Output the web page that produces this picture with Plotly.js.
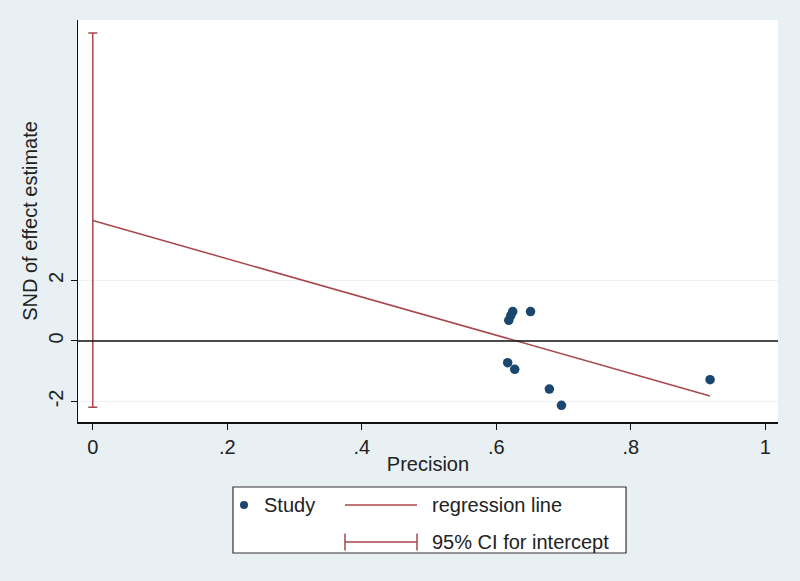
<!DOCTYPE html>
<html>
<head>
<meta charset="utf-8">
<script src="https://cdn.plot.ly/plotly-3.0.1.min.js"></script>
<style>html,body{margin:0;padding:0;background:#e8f0f3;}#chart{width:800px;height:581px;}</style>
</head>
<body>
<div id="chart"></div>
<script>
// Study points (Galbraith / Egger plot)
var precision = [0.6245, 0.6216, 0.6186, 0.651, 0.617, 0.6275, 0.679, 0.697, 0.918];
var snd = [0.97, 0.84, 0.68, 0.97, -0.72, -0.94, -1.59, -2.13, -1.28];
// Regression line end points
var regX = [0, 0.918];
var regY = [3.98, -1.82];
// 95% CI for intercept
var ciX = [0];
var ciLow = [-2.19];
var ciHigh = [10.18];
// Tick labels
var xTickVals = [0, 0.2, 0.4, 0.6, 0.8, 1];
var xTickText = ['0', '.2', '.4', '.6', '.8', '1'];
var yTickVals = [-2, 0, 2];
var yTickText = ['-2', '0', '2'];

var navy = '#1a476f';
var maroon = '#a8474c';
var font = 'Liberation Sans, Arial, sans-serif';
var fs = 20;

var ciMid = ciLow.map(function(v, i){ return (v + ciHigh[i]) / 2; });
var ciHalf = ciLow.map(function(v, i){ return (ciHigh[i] - v) / 2; });

var traces = [
  {x: ciX, y: ciMid, type: 'scatter', mode: 'markers', name: '95% CI for intercept',
   marker: {size: 1, opacity: 0, color: maroon},
   error_y: {type: 'data', symmetric: true, array: ciHalf, color: maroon, thickness: 1.5, width: 4.5},
   hoverinfo: 'skip'},
  {x: regX, y: regY, type: 'scatter', mode: 'lines', name: 'regression line',
   line: {color: maroon, width: 1.5}},
  {x: precision, y: snd, type: 'scatter', mode: 'markers', name: 'Study',
   marker: {color: navy, size: 9.5}}
];

// custom legend geometry (paper coords)
var rowA = -0.2065, rowB = -0.2985;
var shapes = [
  {type: 'line', xref: 'paper', yref: 'y', x0: 0, x1: 1, y0: 0, y1: 0, line: {color: '#111', width: 1.5}, layer: 'above'},
  {type: 'rect', xref: 'paper', yref: 'paper', x0: 0.2214, x1: 0.7829, y0: -0.3259, y1: -0.1617,
   fillcolor: '#ffffff', line: {color: '#333', width: 1.2}},
  {type: 'circle', xref: 'paper', yref: 'paper', x0: 0.2314, x1: 0.2429, y0: rowA - 0.0099, y1: rowA + 0.0099,
   fillcolor: navy, line: {color: navy, width: 0}},
  {type: 'line', xref: 'paper', yref: 'paper', x0: 0.3814, x1: 0.4843, y0: rowA, y1: rowA, line: {color: maroon, width: 1.5}},
  {type: 'line', xref: 'paper', yref: 'paper', x0: 0.3814, x1: 0.4843, y0: rowB, y1: rowB, line: {color: maroon, width: 1.5}},
  {type: 'line', xref: 'paper', yref: 'paper', x0: 0.3814, x1: 0.3814, y0: rowB - 0.021, y1: rowB + 0.021, line: {color: maroon, width: 1.5}},
  {type: 'line', xref: 'paper', yref: 'paper', x0: 0.4843, x1: 0.4843, y0: rowB - 0.021, y1: rowB + 0.021, line: {color: maroon, width: 1.5}}
];
var annotations = [
  {xref: 'paper', yref: 'paper', x: 0.2629, y: rowA, xanchor: 'left', yanchor: 'middle', showarrow: false,
   text: 'Study', font: {family: font, size: fs, color: '#222'}},
  {xref: 'paper', yref: 'paper', x: 0.5029, y: rowA, xanchor: 'left', yanchor: 'middle', showarrow: false,
   text: 'regression line', font: {family: font, size: fs, color: '#222'}},
  {xref: 'paper', yref: 'paper', x: 0.5029, y: rowB, xanchor: 'left', yanchor: 'middle', showarrow: false,
   text: '95% CI for intercept', font: {family: font, size: fs, color: '#222'}}
];

var layout = {
  width: 800, height: 581,
  margin: {l: 78, r: 22, t: 20, b: 159},
  paper_bgcolor: '#e8f0f3',
  plot_bgcolor: '#ffffff',
  showlegend: false,
  font: {family: font, size: fs, color: '#222'},
  xaxis: {
    range: [-0.022, 1.019], tickvals: xTickVals, ticktext: xTickText,
    showline: true, linecolor: '#111', linewidth: 1.5, ticks: 'outside', ticklen: 6, tickcolor: '#111',
    showgrid: false, zeroline: false,
    title: {text: 'Precision', standoff: 0, font: {family: font, size: fs, color: '#222'}}
  },
  yaxis: {
    range: [-2.68, 10.61], tickvals: yTickVals, ticktext: yTickText, tickangle: -90,
    showline: true, linecolor: '#111', linewidth: 1.5, ticks: 'outside', ticklen: 6, tickcolor: '#111',
    showgrid: true, gridcolor: '#eef2f4', gridwidth: 1, zeroline: false,
    title: {text: 'SND of effect estimate', standoff: 1, font: {family: font, size: fs, color: '#222'}}
  },
  shapes: shapes,
  annotations: annotations
};

Plotly.newPlot('chart', traces, layout, {displayModeBar: false, staticPlot: true});
</script>
</body>
</html>
